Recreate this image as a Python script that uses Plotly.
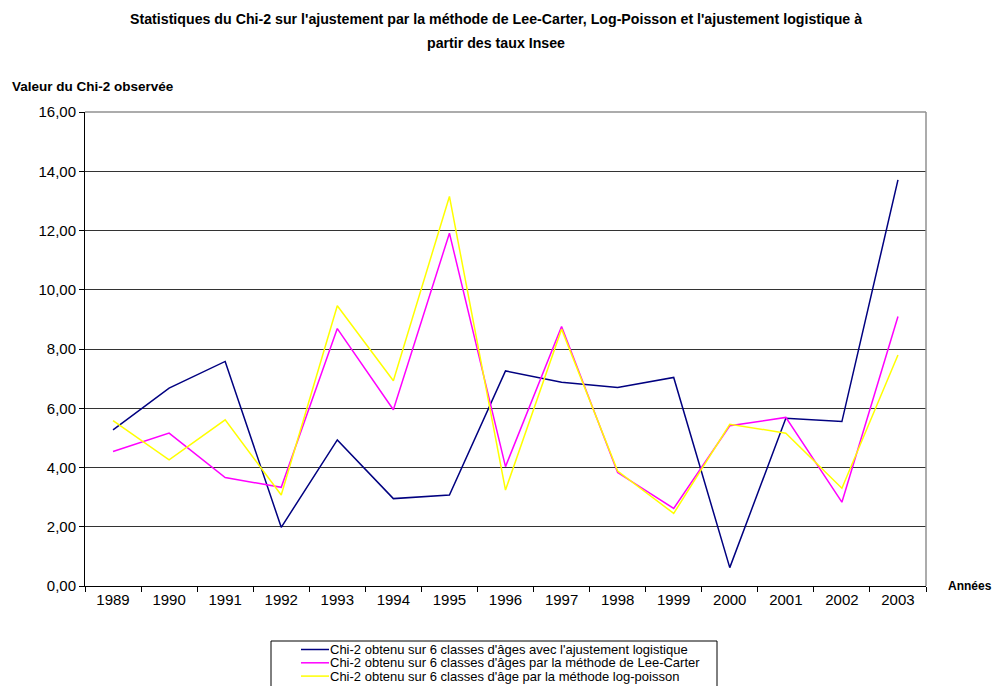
import plotly.graph_objects as go

# data
annees = ['1989', '1990', '1991', '1992', '1993', '1994', '1995', '1996',
          '1997', '1998', '1999', '2000', '2001', '2002', '2003']
chi2_logistique = [5.27, 6.68, 7.58, 1.98, 4.93, 2.95, 3.07, 7.26,
                   6.88, 6.70, 7.04, 0.62, 5.66, 5.55, 13.71]
chi2_lee_carter = [4.54, 5.16, 3.66, 3.33, 8.69, 5.95, 11.91, 4.03,
                   8.76, 3.83, 2.62, 5.41, 5.69, 2.83, 9.10]
chi2_log_poisson = [5.58, 4.26, 5.61, 3.07, 9.46, 6.93, 13.15, 3.24,
                    8.67, 3.88, 2.45, 5.46, 5.16, 3.30, 7.80]
y_ticks = [0, 2, 4, 6, 8, 10, 12, 14, 16]

noms = ["Chi-2 obtenu sur 6 classes d'âges avec l'ajustement logistique",
        "Chi-2 obtenu sur 6 classes d'âges par la méthode de Lee-Carter",
        "Chi-2 obtenu sur 6 classes d'âge par la méthode log-poisson"]
couleurs = ['#000080', '#FF00FF', '#FFFF00']

# plot area in pixels
L, R, T, B = 85, 926, 112, 586


def px(x):
    return (x - L) / (R - L)


def py(y):
    return (B - y) / (B - T)


fig = go.Figure()
for nom, vals, c in zip(noms, [chi2_logistique, chi2_lee_carter, chi2_log_poisson], couleurs):
    fig.add_trace(go.Scatter(x=annees, y=vals, mode='lines', name=nom,
                             line=dict(color=c, width=1.5)))

police = 'Liberation Sans, Arial, sans-serif'

fig.update_layout(
    width=992, height=686,
    margin=dict(l=L, r=992 - R, t=T, b=686 - B, autoexpand=False),
    plot_bgcolor='white', paper_bgcolor='white',
    font=dict(family=police, size=15, color='black'),
    separators=',.',
    showlegend=False,
    xaxis=dict(type='category', tickson='boundaries', ticks='outside', ticklen=5,
               tickcolor='black', showline=True, linecolor='black', linewidth=1,
               showgrid=False, range=[-0.5, 14.5], tickfont=dict(size=15)),
    yaxis=dict(range=[0, 16], tickvals=y_ticks, tickformat='.2f', ticks='outside',
               ticklen=5, tickcolor='black', showline=True, linecolor='black',
               linewidth=1, showgrid=True, gridcolor='#333333', gridwidth=1,
               zeroline=False, tickfont=dict(size=15)),
)

# gray frame on top and right
fig.add_shape(type='line', xref='paper', yref='paper', x0=0, x1=1, y0=1, y1=1,
              line=dict(color='#909090', width=1.5))
fig.add_shape(type='line', xref='paper', yref='paper', x0=1, x1=1, y0=0, y1=1,
              line=dict(color='#909090', width=1.5))

# titles
fig.add_annotation(text="<b>Statistiques du Chi-2 sur l'ajustement par la méthode de Lee-Carter, "
                        "Log-Poisson et l'ajustement logistique à</b>",
                   xref='paper', yref='paper', x=px(496), y=py(19),
                   xanchor='center', yanchor='middle', showarrow=False, font=dict(size=14.2))
fig.add_annotation(text="<b>partir des taux Insee</b>",
                   xref='paper', yref='paper', x=px(496), y=py(43),
                   xanchor='center', yanchor='middle', showarrow=False, font=dict(size=14.2))
fig.add_annotation(text="<b>Valeur du Chi-2 observée</b>",
                   xref='paper', yref='paper', x=px(10), y=py(86),
                   xanchor='left', yanchor='middle', showarrow=False, font=dict(size=13.5))
fig.add_annotation(text="<b>Années</b>",
                   xref='paper', yref='paper', x=px(946), y=py(586),
                   xanchor='left', yanchor='middle', showarrow=False, font=dict(size=12))

# legend box drawn by hand (tight row spacing like the reference)
fig.add_shape(type='rect', xref='paper', yref='paper', x0=px(271), x1=px(717),
              y0=py(641), y1=py(692), line=dict(color='black', width=1), fillcolor='white')
for i, (nom, c) in enumerate(zip(noms, couleurs)):
    yy = py(649.5 + i * 13.3)
    fig.add_shape(type='line', xref='paper', yref='paper', x0=px(301), x1=px(329),
                  y0=yy, y1=yy, line=dict(color=c, width=1.5))
    fig.add_annotation(text=nom, xref='paper', yref='paper', x=px(328), y=yy,
                       xanchor='left', yanchor='middle', showarrow=False,
                       font=dict(size=13))

fig.write_html("out.html", config={'displayModeBar': False},
               post_script="document.body.style.margin='0';document.body.style.overflow='hidden';")
